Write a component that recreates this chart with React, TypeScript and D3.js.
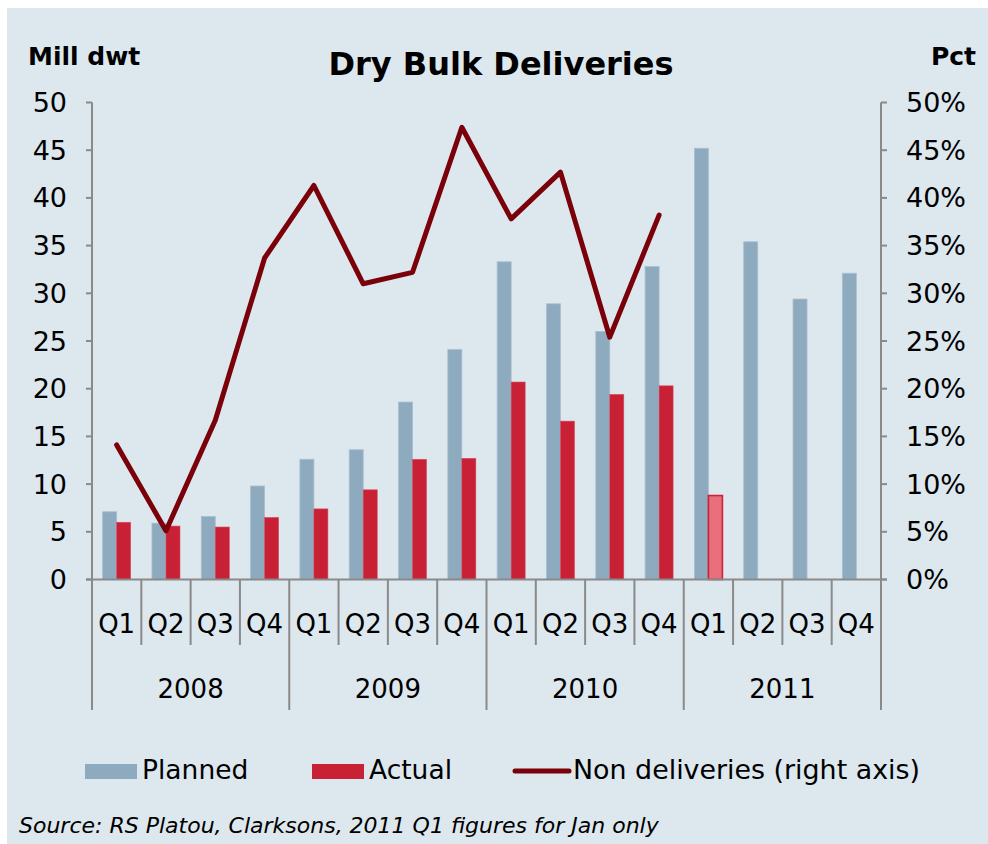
import React from "react";
import * as d3 from "d3";

const quarters = ["Q1", "Q2", "Q3", "Q4"];
const years = ["2008", "2009", "2010", "2011"];
// Mill dwt
const planned = [7.1, 5.9, 6.6, 9.8, 12.6, 13.6, 18.6, 24.1, 33.3, 28.9, 26.0, 32.8, 45.2, 35.4, 29.4, 32.1];
const actual = [6.0, 5.6, 5.5, 6.5, 7.4, 9.4, 12.6, 12.7, 20.7, 16.6, 19.4, 20.3, 8.8];
// Pct, right axis
const nonDeliveries = [14.1, 5.1, 16.7, 33.7, 41.3, 31.0, 32.2, 47.4, 37.8, 42.7, 25.4, 38.2];
const leftTicks = [0, 5, 10, 15, 20, 25, 30, 35, 40, 45, 50];
const rightTicks = [0, 5, 10, 15, 20, 25, 30, 35, 40, 45, 50];

const W = 988, H = 844;
const left = 92, right = 881, y0 = 579.5, yTop = 102.5;
const font = "DejaVu Sans, Verdana, sans-serif";
const axisColor = "#8a8a8a";

export default function App() {
  const keys = years.flatMap(y => quarters.map(q => y + "-" + q));
  const x = d3.scaleBand().domain(keys).range([left, right]);
  const bw = x.bandwidth();
  const y = d3.scaleLinear().domain([0, 50]).range([y0, yTop]);
  const yR = d3.scaleLinear().domain([0, 50]).range([y0, yTop]);
  const barW = 14;
  const cx = (i) => x(keys[i]) + bw / 2;

  const line = d3.line()
    .x((d, i) => cx(i))
    .y(d => yR(d));

  return (
    <svg width={W} height={H} style={{ position: "absolute", left: 0, top: 0 }} fontFamily={font}>
      <rect x={0} y={0} width={W} height={H} fill="#fff" />
      <rect x={7} y={8} width={W - 7} height={H - 8} fill="#dde7ee" />

      <text x={28} y={65} fontSize={25} fontWeight="bold">Mill dwt</text>
      <text x={501} y={75} fontSize={32} fontWeight="bold" textAnchor="middle">Dry Bulk Deliveries</text>
      <text x={976} y={65} fontSize={25} fontWeight="bold" textAnchor="end">Pct</text>

      {/* bars */}
      {planned.map((v, i) => (
        <rect key={"p" + i} x={cx(i) - barW} y={y(v)} width={barW} height={y0 - y(v)}
          fill="#8eaabe" stroke="#a9bfcf" strokeWidth={0.8} />
      ))}
      {actual.map((v, i) => (
        <rect key={"a" + i} x={cx(i)} y={y(v)} width={barW} height={y0 - y(v)}
          fill={i === 12 ? "#e8707c" : "#c82034"}
          stroke={i === 12 ? "#cc2236" : "#d9485a"} strokeWidth={i === 12 ? 1.6 : 0.6} />
      ))}

      <path d={line(nonDeliveries)} fill="none" stroke="#7a0009" strokeWidth={5}
        strokeLinejoin="round" strokeLinecap="round" />

      {/* left axis */}
      <line x1={left} x2={left} y1={yTop} y2={710} stroke={axisColor} strokeWidth={2} />
      {leftTicks.map(t => (
        <g key={"l" + t}>
          <line x1={left - 6} x2={left} y1={y(t)} y2={y(t)} stroke={axisColor} strokeWidth={2} />
          <text x={67} y={y(t) + 9.5} fontSize={27} textAnchor="end">{t}</text>
        </g>
      ))}

      {/* right axis */}
      <line x1={right} x2={right} y1={yTop} y2={710} stroke={axisColor} strokeWidth={2} />
      {rightTicks.map(t => (
        <g key={"r" + t}>
          <line x1={right} x2={right + 6} y1={yR(t)} y2={yR(t)} stroke={axisColor} strokeWidth={2} />
          <text x={906} y={yR(t) + 9.5} fontSize={27}>{t + "%"}</text>
        </g>
      ))}

      {/* category axis */}
      <line x1={left - 6} x2={right + 6} y1={y0} y2={y0} stroke={axisColor} strokeWidth={2} />
      {keys.map((k, i) => (
        <g key={k}>
          {i > 0 && (
            <line x1={x(k)} x2={x(k)} y1={y0} y2={i % 4 === 0 ? 710 : 645}
              stroke={axisColor} strokeWidth={2} />
          )}
          <text x={cx(i)} y={633} fontSize={26} textAnchor="middle">{quarters[i % 4]}</text>
        </g>
      ))}
      {years.map((yr, j) => (
        <text key={yr} x={(x(keys[j * 4]) + x(keys[j * 4 + 3]) + bw) / 2} y={698}
          fontSize={26} textAnchor="middle">{yr}</text>
      ))}

      {/* legend */}
      <rect x={85} y={764} width={52} height={15} fill="#8eaabe" />
      <text x={142} y={779} fontSize={26.5}>Planned</text>
      <rect x={312} y={764} width={52} height={15} fill="#c82034" />
      <text x={369} y={779} fontSize={26.5}>Actual</text>
      <line x1={515} x2={569} y1={771} y2={771} stroke="#7a0009" strokeWidth={5} strokeLinecap="round" />
      <text x={573} y={779} fontSize={26.5} textLength={347} lengthAdjust="spacingAndGlyphs">Non deliveries (right axis)</text>

      <text x={19} y={833} fontSize={22} fontStyle="italic">Source: RS Platou, Clarksons, 2011 Q1 figures for Jan only</text>
    </svg>
  );
}
